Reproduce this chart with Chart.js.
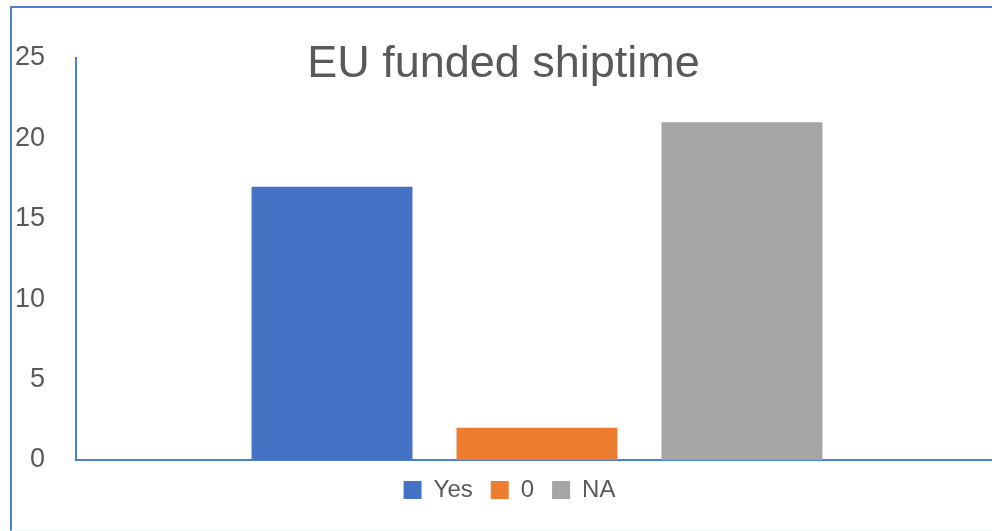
<!DOCTYPE html>
<html>
<head>
<meta charset="utf-8">
<script src="https://cdn.jsdelivr.net/npm/chart.js@4"></script>
<style>
  html, body { margin: 0; padding: 0; background: #fff; overflow: hidden; width: 992px; height: 531px; }
  #frame { position: absolute; left: 10px; top: 6px; width: 1200px; height: 522px;
           border-top: 2px solid #4f7fd3; border-left: 2px solid #4f7fd3; border-bottom: 1px solid #eef2f9; }
  #wrap { position: absolute; left: 0; top: 0; width: 1020px; height: 531px; }
  #title { position: absolute; left: 0; top: 39px; width: 1007px; text-align: center;
           font-family: 'Liberation Sans', Arial, sans-serif; font-size: 45px; line-height: 45px; color: #595959; }
</style>
</head>
<body>
<div id="frame"></div>
<div id="wrap"><canvas id="c"></canvas></div>
<div id="title">EU funded shiptime</div>
<script>
const categories = [''];
const seriesNames = ['Yes', '0', 'NA'];
const seriesValues = [[17], [2], [21]];
const seriesColors = ['#4472C4', '#ED7D31', '#A5A5A5'];
const yTicks = [0, 5, 10, 15, 20, 25];

const axisBlue = '#4f7fd3';
const textGray = '#595959';

const legendShift = {
  id: 'legendShift',
  afterLayout(chart) {
    if (chart.legend) { chart.legend.left += 8; chart.legend.right += 8; }
  }
};

new Chart(document.getElementById('c'), {
  type: 'bar',
  data: {
    labels: categories,
    datasets: seriesNames.map((n, i) => ({
      label: n,
      data: seriesValues[i],
      backgroundColor: seriesColors[i],
      borderWidth: 0,
      categoryPercentage: 0.667,
      barPercentage: 0.785
    }))
  },
  plugins: [legendShift],
  options: {
    responsive: true,
    maintainAspectRatio: false,
    animation: false,
    devicePixelRatio: 1,
    layout: { padding: { left: 5, right: 22, top: 58, bottom: 19 } },
    plugins: {
      title: { display: false },
      tooltip: { enabled: false },
      legend: {
        position: 'bottom',
        labels: {
          boxWidth: 18, boxHeight: 18, padding: 18,
          color: textGray,
          font: { family: "'Liberation Sans', Arial, sans-serif", size: 24 }
        }
      }
    },
    scales: {
      x: {
        grid: { display: false, drawTicks: false },
        border: { display: true, color: axisBlue, width: 2 },
        ticks: { display: false }
      },
      y: {
        min: yTicks[0], max: yTicks[yTicks.length - 1],
        afterBuildTicks: s => { s.ticks = yTicks.map(v => ({ value: v })); },
        afterFit: s => { s.width = 71; },
        grid: { display: false, drawTicks: false },
        border: { display: true, color: axisBlue, width: 2 },
        ticks: {
          padding: 31,
          color: textGray,
          font: { family: "'Liberation Sans', Arial, sans-serif", size: 27 }
        }
      }
    }
  }
});
</script>
</body>
</html>
